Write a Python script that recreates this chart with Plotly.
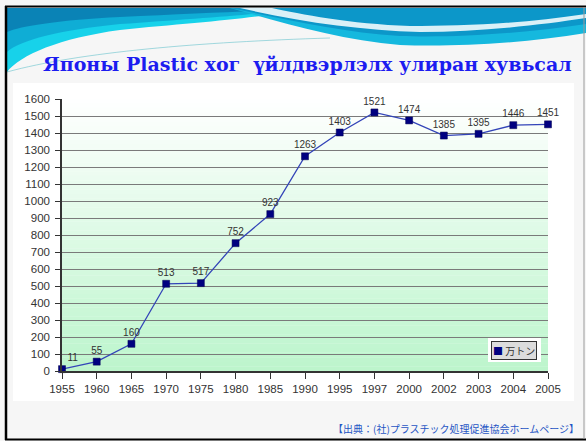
import plotly.graph_objects as go

years = ["1955", "1960", "1965", "1970", "1975", "1980", "1985", "1990",
         "1995", "1997", "2000", "2002", "2003", "2004", "2005"]
production = [11, 55, 160, 513, 517, 752, 923, 1263, 1403, 1521, 1474, 1385, 1395, 1446, 1451]
series_name = "万トン"
title_text = "Японы Plastic хог  үйлдвэрлэлх улиран хувьсал"
source_text = "【出典：(社)プラスチック処理促進協会ホームページ】"

W, H = 586, 441
L, R, T, B = 62, 548, 99, 371
PW, PH = R - L, B - T


def px(x):
    return (x - L) / PW


def py(y):
    return (B - y) / PH


def path(cmds):
    out = []
    for c in cmds:
        if isinstance(c, str):
            out.append(c)
        else:
            out.append(f"{px(c[0]):.4f},{py(c[1]):.4f}")
    return " ".join(out)


def pshape(cmds, fill=None, line=None, opacity=1.0):
    d = dict(type="path", xref="paper", yref="paper", layer="below", path=path(cmds), opacity=opacity)
    d["fillcolor"] = fill if fill else "rgba(0,0,0,0)"
    d["line"] = line if line else dict(width=0)
    return d


shapes = []
# chart box
shapes.append(dict(type="rect", xref="paper", yref="paper", x0=px(13), x1=px(574), y0=py(401), y1=py(83),
                   fillcolor="#ffffff", line=dict(width=0), layer="below"))
# left wave
shapes.append(pshape(["M", (7, 8), "L", (300, 8), "C", (270, 18), (200, 22), (120, 30),
                      "C", (60, 38), (20, 55), (7, 72), "Z"], fill="#17d2ea"))
shapes.append(pshape(["M", (7, 8), "L", (300, 8), "C", (270, 14), (200, 18), (120, 24),
                      "C", (60, 30), (20, 40), (7, 52), "Z"], fill="#0ea9d3", opacity=0.9))
shapes.append(pshape(["M", (7, 8), "L", (300, 8), "C", (260, 11), (200, 13), (120, 17),
                      "C", (60, 20), (20, 26), (7, 32), "Z"], fill="#0a7eb3", opacity=0.9))
# right wave
shapes.append(pshape(["M", (230, 8), "L", (586, 8), "L", (586, 33), "C", (520, 44), (450, 47), (400, 45),
                      "C", (340, 40), (280, 22), (230, 8), "Z"], fill="#15b8de"))
shapes.append(pshape(["M", (230, 8), "L", (586, 8), "L", (586, 24), "C", (520, 34), (450, 38), (400, 36),
                      "C", (340, 32), (280, 18), (230, 8), "Z"], fill="#0b90c6", opacity=0.85))
# white streak
shapes.append(pshape(["M", (240, 8), "C", (300, 22), (360, 30), (420, 32), "C", (480, 32), (540, 25), (586, 18),
                      "L", (586, 14), "C", (520, 24), (460, 26), (410, 26), "C", (350, 24), (300, 14), (272, 8), "Z"],
                     fill="#ffffff", opacity=0.85))
# thin teal line across white region
shapes.append(pshape(["M", (7, 72), "C", (80, 52), (200, 42), (330, 38)],
                     line=dict(color="rgba(90,190,200,0.55)", width=1)))
# slide frame
shapes.append(dict(type="line", xref="paper", yref="paper", x0=px(6), x1=px(6), y0=py(6), y1=py(440),
                   line=dict(color="#000000", width=2.5)))
shapes.append(dict(type="line", xref="paper", yref="paper", x0=px(5), x1=px(586), y0=py(6.5), y1=py(6.5),
                   line=dict(color="#000000", width=2)))
shapes.append(dict(type="line", xref="paper", yref="paper", x0=px(5), x1=px(586), y0=py(439.5), y1=py(439.5),
                   line=dict(color="#000000", width=2)))
shapes.append(dict(type="line", xref="paper", yref="paper", x0=px(584), x1=px(584), y0=py(7), y1=py(439),
                   line=dict(color="#9a9a9a", width=1)))

# plot-area vertical gradient (white -> light green)
nb = 60
top_c = (255, 255, 255)
bot_c = (188, 245, 204)
for i in range(nb):
    f = (i + 0.5) / nb
    c = tuple(round(top_c[k] + (bot_c[k] - top_c[k]) * f) for k in range(3))
    shapes.append(dict(type="rect", xref="x domain", yref="y domain", x0=0, x1=1,
                       y0=1 - (i + 1) / nb, y1=1 - i / nb + 0.001,
                       fillcolor=f"rgb{c}", line=dict(width=0), layer="below"))

# legend halo
shapes.append(dict(type="rect", xref="paper", yref="paper", x0=px(488), x1=px(541), y0=py(362), y1=py(338),
                   fillcolor="#ffffff", line=dict(width=0), layer="above"))

positions = ["top right"] + ["top center"] * (len(years) - 1)

fig = go.Figure()
fig.add_trace(go.Scatter(
    x=years, y=production, mode="lines+markers+text", name=series_name,
    line=dict(color="#3344b8", width=1.3),
    marker=dict(symbol="square", size=7, color="#000080", line=dict(color="#000050", width=0.5)),
    text=[str(v) for v in production], textposition=positions,
    textfont=dict(family="Liberation Sans, Arial, sans-serif", size=10, color="#333333"),
    showlegend=False, cliponaxis=False,
))

fig.update_layout(
    width=W, height=H, autosize=False,
    margin=dict(l=L, r=W - R, t=T, b=H - B, pad=0),
    paper_bgcolor="#f6f6f6", plot_bgcolor="rgba(0,0,0,0)",
    shapes=shapes,
    font=dict(family="Liberation Sans, Arial, sans-serif", size=11, color="#333333"),
    xaxis=dict(type="category", range=[0, len(years) - 1], showgrid=False,
               showline=True, linecolor="#333333", linewidth=1.5,
               ticks="outside", ticklen=6, tickcolor="#333333", tickwidth=1.2,
               tickfont=dict(size=11.5, color="#333333"), zeroline=False),
    yaxis=dict(range=[0, 1600], dtick=100, tick0=0, showgrid=True, gridcolor="#7a7a7a", gridwidth=1,
               showline=True, linecolor="#333333", linewidth=1.5,
               ticks="outside", ticklen=5, tickcolor="#333333", tickwidth=1.2,
               ticklabelstandoff=3,
               tickfont=dict(size=11.5, color="#333333"), zeroline=False),
    showlegend=False,
    annotations=[
        dict(text=f"<b>{title_text}</b>", xref="paper", yref="paper", x=px(307), y=py(64),
             xanchor="center", yanchor="middle", showarrow=False,
             font=dict(family="DejaVu Serif, serif", size=19, color="#1c1cf0")),
        dict(text=source_text, xref="paper", yref="paper", x=px(581), y=py(428),
             xanchor="right", yanchor="middle", showarrow=False,
             font=dict(family="Noto Sans CJK JP, sans-serif", size=10, color="#1f55c4")),
        dict(text=f"<span style='color:#000080'>■</span> {series_name}", xref="paper", yref="paper",
             x=px(514), y=py(350), xanchor="center", yanchor="middle", showarrow=False,
             bgcolor="#dcdcdc", bordercolor="#333333", borderwidth=1, borderpad=1,
             font=dict(family="Noto Sans CJK JP, sans-serif", size=10, color="#333333")),
    ],
)

fig.write_html("out.html", config={"displayModeBar": False},
               post_script="document.body.style.margin='0';document.body.style.padding='0';")
